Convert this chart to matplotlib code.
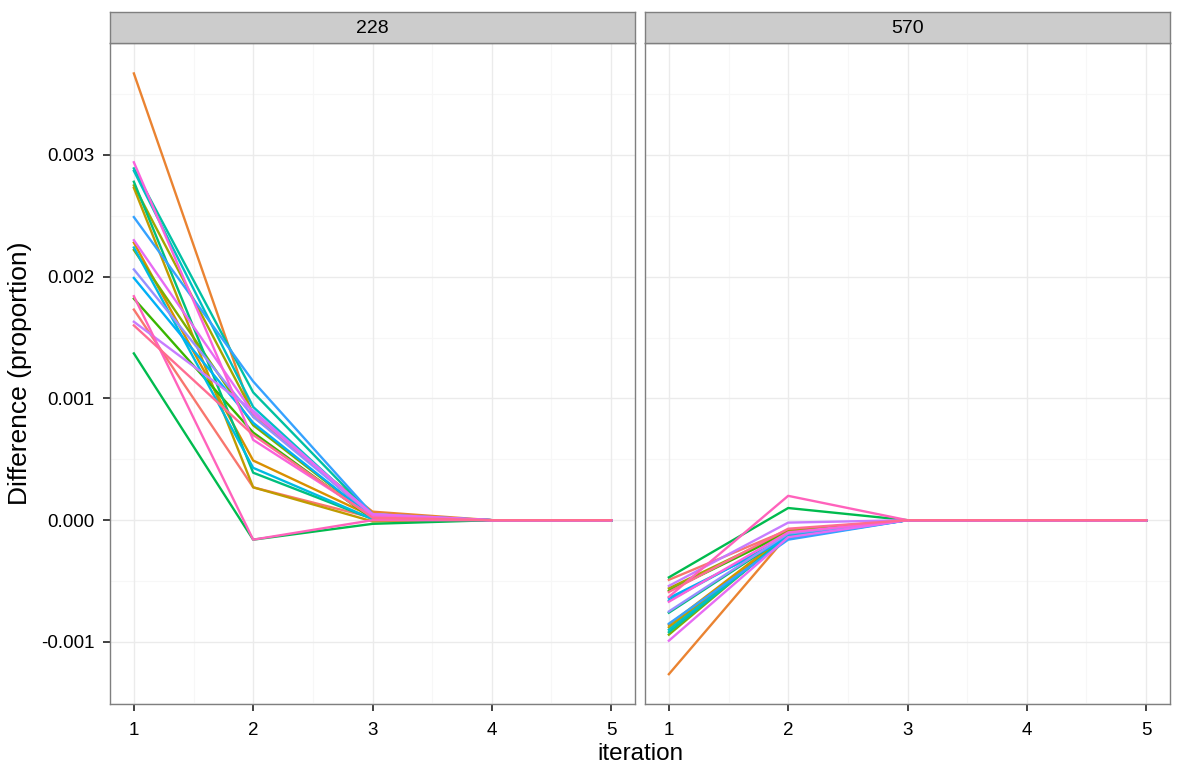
import matplotlib.pyplot as plt
import matplotlib as mpl

mpl.rcParams['font.family'] = ['Liberation Sans', 'DejaVu Sans']
mpl.rcParams['font.size'] = 13

iterations = [1, 2, 3, 4, 5]
panels = ['228', '570']

colors = ['#F8766D', '#EA8331', '#D89000', '#C09B00', '#A3A500', '#7CAE00', '#39B600',
          '#00BB4E', '#00BF7D', '#00C1A3', '#00BFC4', '#00BAE0', '#00B0F6', '#35A2FF',
          '#9590FF', '#C77CFF', '#E76BF3', '#FA62DB', '#FF62BC', '#FF6C91']

# values per line: iterations 1..5
diff_228 = [
    [0.00173, 0.00027, 0.00002, 0.0, 0.0],
    [0.00367, 0.00085, 0.00007, 0.0, 0.0],
    [0.00228, 0.00049, 0.00003, 0.0, 0.0],
    [0.00273, 0.00027, -0.00001, 0.0, 0.0],
    [0.00275, 0.00088, 0.00003, 0.0, 0.0],
    [0.00222, 0.00078, 0.00002, 0.0, 0.0],
    [0.00182, 0.00072, 0.00001, 0.0, 0.0],
    [0.00137, -0.00016, -0.00003, 0.0, 0.0],
    [0.00278, 0.00039, 0.00001, 0.0, 0.0],
    [0.00289, 0.00105, 0.00004, 0.0, 0.0],
    [0.00287, 0.00093, 0.00003, 0.0, 0.0],
    [0.00224, 0.00043, 0.00001, 0.0, 0.0],
    [0.00199, 0.00080, 0.00002, 0.0, 0.0],
    [0.00249, 0.00114, 0.00005, 0.0, 0.0],
    [0.00206, 0.00085, 0.00004, 0.0, 0.0],
    [0.00163, 0.00090, 0.00004, 0.0, 0.0],
    [0.00230, 0.00088, 0.00005, 0.0, 0.0],
    [0.00294, 0.00066, 0.00003, 0.0, 0.0],
    [0.00184, -0.00016, 0.00000, 0.0, 0.0],
    [0.00160, 0.00070, 0.00002, 0.0, 0.0],
]

diff_570 = [
    [-0.00049, -0.00008, 0.0, 0.0, 0.0],
    [-0.001265, -0.00012, 0.0, 0.0, 0.0],
    [-0.00086, -0.00011, 0.0, 0.0, 0.0],
    [-0.00088, -0.00013, 0.0, 0.0, 0.0],
    [-0.00056, -0.00009, 0.0, 0.0, 0.0],
    [-0.00094, -0.00012, 0.0, 0.0, 0.0],
    [-0.00058, -0.00010, 0.0, 0.0, 0.0],
    [-0.00047, 0.00010, 0.0, 0.0, 0.0],
    [-0.00076, -0.00012, 0.0, 0.0, 0.0],
    [-0.00092, -0.00013, 0.0, 0.0, 0.0],
    [-0.00090, -0.00014, 0.0, 0.0, 0.0],
    [-0.00066, -0.00013, 0.0, 0.0, 0.0],
    [-0.00064, -0.00015, 0.0, 0.0, 0.0],
    [-0.00085, -0.00016, 0.0, 0.0, 0.0],
    [-0.00075, -0.00011, 0.0, 0.0, 0.0],
    [-0.00054, -0.00002, 0.0, 0.0, 0.0],
    [-0.00099, -0.00014, 0.0, 0.0, 0.0],
    [-0.00067, -0.00010, 0.0, 0.0, 0.0],
    [-0.00063, 0.00020, 0.0, 0.0, 0.0],
    [-0.00059, -0.00007, 0.0, 0.0, 0.0],
]

yticks = [-0.001, 0.000, 0.001, 0.002, 0.003]
ytick_labels = ['-0.001', '0.000', '0.001', '0.002', '0.003']

fig = plt.figure(figsize=(11.81, 7.70), dpi=100)
W, H = 1181, 770
ax_boxes = [(110, 635), (645, 1170)]
top, bottom = 43, 704
strip_h = 31

for i, (name, data) in enumerate(zip(panels, [diff_228, diff_570])):
    x0, x1 = ax_boxes[i]
    ax = fig.add_axes([x0 / W, 1 - bottom / H, (x1 - x0) / W, (bottom - top) / H])
    # minor + major grid
    for v in [1.5, 2.5, 3.5, 4.5]:
        ax.axvline(v, color='#F7F7F7', lw=0.8, zorder=0)
    for v in [-0.0015, -0.0005, 0.0005, 0.0015, 0.0025, 0.0035]:
        ax.axhline(v, color='#F7F7F7', lw=0.8, zorder=0)
    for v in iterations:
        ax.axvline(v, color='#EBEBEB', lw=1.0, zorder=0)
    for v in yticks:
        ax.axhline(v, color='#EBEBEB', lw=1.0, zorder=0)

    for vals, c in zip(data, colors):
        ax.plot(iterations, vals, color=c, lw=1.7, zorder=2)

    ax.set_xlim(0.8, 5.2)
    ax.set_ylim(-0.00151, 0.00392)
    ax.set_xticks(iterations)
    ax.set_yticks(yticks)
    ax.tick_params(axis='both', direction='out', length=5, width=1.3, color='#333333',
                   labelsize=13.5, labelcolor='black')
    ax.tick_params(axis='x', pad=8)
    ax.tick_params(axis='y', pad=6)
    if i == 0:
        ax.set_yticklabels(ytick_labels)
        ax.set_ylabel('Difference (proportion)', fontsize=19, labelpad=7)
    else:
        ax.set_yticklabels([])
        ax.tick_params(axis='y', length=0)
    for s in ax.spines.values():
        s.set_color('#7F7F7F')
        s.set_linewidth(1.0)

    # strip
    sax = fig.add_axes([x0 / W, 1 - top / H, (x1 - x0) / W, strip_h / H])
    sax.set_facecolor('#CCCCCC')
    sax.set_xticks([])
    sax.set_yticks([])
    for s in sax.spines.values():
        s.set_color('#7F7F7F')
        s.set_linewidth(1.0)
    sax.text(0.5, 0.47, name, ha='center', va='center', fontsize=14, transform=sax.transAxes)

fig.text((110 + 1170) / 2 / W, 1 - 754 / H, 'iteration', ha='center', va='center', fontsize=17.5)

plt.savefig('out.png', dpi=100)
